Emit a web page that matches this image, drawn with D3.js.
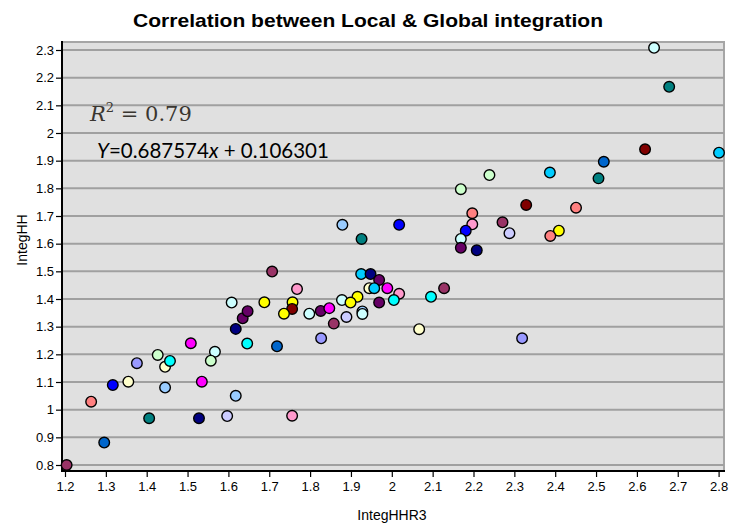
<!DOCTYPE html>
<html>
<head>
<meta charset="utf-8">
<script src="https://cdn.jsdelivr.net/npm/d3@7"></script>
<style>
  body { margin: 0; background: #fff; }
  svg text { font-family: "Liberation Sans", Arial, sans-serif; }
  .tick text { font-family: "Liberation Sans", Arial, sans-serif; font-size: 13px; fill: #000; }
</style>
</head>
<body>
<div id="chart"></div>
<script>
var width = 731;
var height = 523;

// values
var xTicks = [1.2, 1.3, 1.4, 1.5, 1.6, 1.7, 1.8, 1.9, 2, 2.1, 2.2, 2.3, 2.4, 2.5, 2.6, 2.7, 2.8];
var yTicks = [0.8, 0.9, 1, 1.1, 1.2, 1.3, 1.4, 1.5, 1.6, 1.7, 1.8, 1.9, 2, 2.1, 2.2, 2.3];

var localX = [1.204, 1.296, 1.264, 1.317, 1.355, 1.376, 1.427, 1.445, 1.457, 1.445,
  1.508, 1.567, 1.557, 1.535, 1.406, 1.528, 1.597, 1.618, 1.618, 1.608,
  1.635, 1.647, 1.707, 1.768, 1.688, 1.757, 1.756, 1.736, 1.798, 1.826,
  1.847, 1.858, 1.889, 1.827, 1.646, 1.719, 1.756, 1.878, 1.916, 1.899,
  1.928, 1.928, 1.925, 1.948, 1.969, 1.945, 1.957, 1.989, 2.018, 2.005,
  1.969, 2.067, 2.239, 2.169, 2.387, 2.506, 2.329, 2.451, 2.197, 2.197,
  2.271, 2.018, 2.181, 2.288, 2.409, 2.388, 2.169, 2.169, 2.208, 2.128,
  2.096, 2.319, 2.642, 2.679, 2.620, 2.801, 2.519, 1.879, 1.926];

var globalY = [0.800, 0.881, 1.029, 1.089, 1.101, 1.168, 1.198, 1.155, 1.176, 1.080,
  1.240, 1.209, 1.177, 1.101, 0.969, 0.969, 0.977, 1.050, 1.292, 1.387,
  1.330, 1.356, 1.499, 1.436, 1.388, 1.388, 1.364, 1.347, 1.347, 1.357,
  1.367, 1.311, 1.335, 1.258, 1.239, 1.229, 0.978, 1.396, 1.408, 1.387,
  1.355, 1.346, 1.490, 1.490, 1.469, 1.439, 1.439, 1.439, 1.419, 1.396,
  1.387, 1.291, 1.848, 1.797, 1.857, 1.836, 1.740, 1.730, 1.710, 1.670,
  1.677, 1.668, 1.647, 1.638, 1.647, 1.628, 1.617, 1.585, 1.576, 1.439,
  1.408, 1.258, 2.308, 2.167, 1.941, 1.929, 1.896, 1.668, 1.617];

var dotColors = ["#993366", "#0066CC", "#FF8080", "#0000FF", "#FFFFCC", "#9999FF", "#CCFFCC", "#FFFFCC", "#00FFFF", "#99CCFF",
  "#FF00FF", "#CCFFFF", "#CCFFCC", "#FF00FF", "#008080", "#000080", "#CCCCFF", "#99CCFF", "#000080", "#CCFFFF",
  "#660066", "#660066", "#993366", "#FF99CC", "#FFFF00", "#FFFF00", "#800000", "#FFFF00", "#CCFFFF", "#660066",
  "#FF00FF", "#993366", "#CCCCFF", "#9999FF", "#00FFFF", "#0066CC", "#FF99CC", "#CCFFFF", "#FFFF00", "#FFFF00",
  "#99CCFF", "#CCFFFF", "#00CCFF", "#000080", "#660066", "#FFFFCC", "#00CCFF", "#FF00FF", "#FF99CC", "#00FFFF",
  "#660066", "#FFFFCC", "#CCFFCC", "#CCFFCC", "#00CCFF", "#008080", "#800000", "#FF8080", "#FF8080", "#FF99CC",
  "#993366", "#0000FF", "#0000FF", "#CCCCFF", "#FFFF00", "#FF8080", "#CCFFFF", "#660066", "#000080", "#993366",
  "#00FFFF", "#9999FF", "#CCFFFF", "#008080", "#800000", "#00CCFF", "#0066CC", "#99CCFF", "#008080"];

var points = localX.map(function (d, i) {
  return { x: d, y: globalY[i], color: dotColors[i] };
});

// plot frame
var plotLeft = 62, plotRight = 724, plotTop = 42, plotBottom = 471;

var x = d3.scaleLinear().domain([1.2, 2.8]).range([65, 718.6]);
var y = d3.scaleLinear().domain([0.8, 2.3]).range([465, 50]);

var svg = d3.select('#chart')
  .append('svg')
  .attr('width', width)
  .attr('height', height);

svg.append('rect')
  .attr('x', plotLeft)
  .attr('y', plotTop)
  .attr('width', plotRight - plotLeft)
  .attr('height', plotBottom - plotTop)
  .attr('fill', '#e0e0e0')
  .attr('stroke', '#a6a6a6')
  .attr('stroke-width', 2);

// horizontal gridlines
svg.append('g')
  .selectAll('line')
  .data(yTicks)
  .enter()
  .append('line')
  .attr('x1', plotLeft)
  .attr('x2', plotRight)
  .attr('y1', function (d) { return y(d); })
  .attr('y2', function (d) { return y(d); })
  .attr('stroke', '#a0a0a0')
  .attr('stroke-width', 2);

// axes
var yAxis = svg.append('g')
  .attr('transform', 'translate(' + plotLeft + ',0)')
  .call(d3.axisLeft(y).tickValues(yTicks).tickSize(6).tickPadding(2).tickFormat(d3.format('')));

var xAxis = svg.append('g')
  .attr('transform', 'translate(0,' + plotBottom + ')')
  .call(d3.axisBottom(x).tickValues(xTicks).tickSize(6).tickPadding(5).tickFormat(d3.format('')));

[xAxis, yAxis].forEach(function (a) {
  a.select('.domain').remove();
  a.selectAll('.tick line').attr('stroke', '#000').attr('stroke-width', 1.2);
});

svg.append('line')
  .attr('x1', plotLeft).attr('x2', plotLeft)
  .attr('y1', plotTop - 1).attr('y2', plotBottom + 1)
  .attr('stroke', '#000').attr('stroke-width', 2);
svg.append('line')
  .attr('x1', plotLeft - 1).attr('x2', plotRight + 1)
  .attr('y1', plotBottom).attr('y2', plotBottom)
  .attr('stroke', '#000').attr('stroke-width', 2);

// dots
svg.append('g')
  .selectAll('circle')
  .data(points)
  .enter()
  .append('circle')
  .attr('cx', function (d) { return x(d.x); })
  .attr('cy', function (d) { return y(d.y); })
  .attr('r', 5.3)
  .attr('fill', function (d) { return d.color; })
  .attr('stroke', '#000')
  .attr('stroke-width', 1.4);

// title and axis labels
svg.append('text')
  .attr('x', 368)
  .attr('y', 27)
  .attr('text-anchor', 'middle')
  .attr('textLength', 470)
  .attr('lengthAdjust', 'spacingAndGlyphs')
  .style('font-weight', 'bold')
  .style('font-size', '19px')
  .text('Correlation between Local & Global integration');

svg.append('text')
  .attr('x', 392)
  .attr('y', 520)
  .attr('text-anchor', 'middle')
  .style('font-size', '14px')
  .text('IntegHHR3');

svg.append('text')
  .attr('transform', 'translate(27,240) rotate(-90)')
  .attr('text-anchor', 'middle')
  .style('font-size', '14px')
  .text('IntegHH');

// regression annotation
var r2 = svg.append('text')
  .attr('x', 90)
  .attr('y', 121)
  .style('font-family', '"DejaVu Serif", serif')
  .style('font-size', '21px')
  .attr('fill', '#3a3630');
r2.append('tspan').style('font-style', 'italic').text('R');
r2.append('tspan').attr('dy', -9).style('font-size', '13px').text('2');
r2.append('tspan').attr('dy', 9).text(' = 0.79');

var eq = svg.append('text')
  .attr('x', 97)
  .attr('y', 158)
  .style('font-family', 'Lato, "Open Sans", sans-serif')
  .style('font-size', '20.5px')
  .attr('fill', '#000');
eq.append('tspan').style('font-style', 'italic').text('Y');
eq.append('tspan').text('=0.687574');
eq.append('tspan').style('font-style', 'italic').text('x');
eq.append('tspan').text(' + 0.106301');
</script>
</body>
</html>
